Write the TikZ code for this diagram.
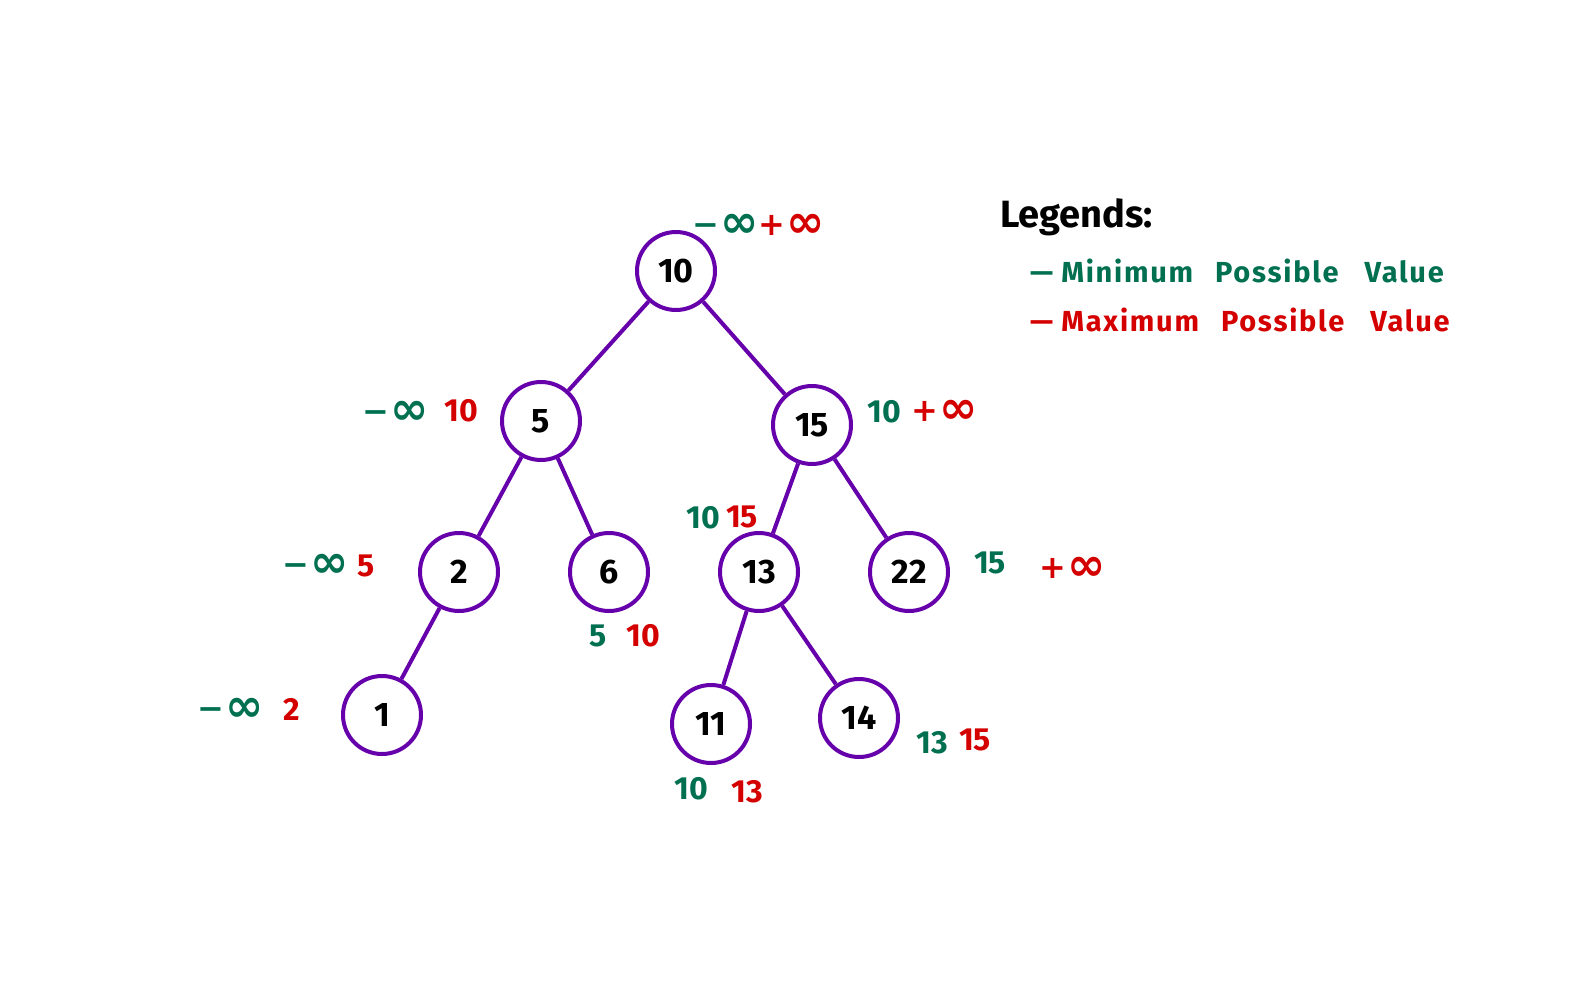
\documentclass[tikz,border=0pt]{standalone}
\usepackage{fontspec}
\setmainfont{Fira Sans}
\newfontfamily\symfont{DejaVu Sans}
\definecolor{treepurple}{RGB}{102,0,170}
\definecolor{mingreen}{RGB}{0,112,80}
\definecolor{maxred}{RGB}{212,0,0}
\newcommand{\infsym}{{\symfont\bfseries\fontsize{46}{46}\selectfont\raisebox{-2pt}{∞}}}
\newcommand{\ninf}{{\symfont\bfseries −\kern1pt\infsym}}
\newcommand{\pinf}{{\symfont\bfseries +\kern1pt\infsym}}
\begin{document}
\begin{tikzpicture}[x=1pt,y=-1pt,
  bstnode/.style={circle,draw=treepurple,line width=4pt,minimum size=78pt,inner sep=0pt,
    font=\fontsize{34}{36}\selectfont\bfseries,fill=white},
  edgeline/.style={draw=treepurple,line width=4pt},
  minlab/.style={text=mingreen,font=\fontsize{32}{34}\selectfont\bfseries,inner sep=0pt},
  maxlab/.style={text=maxred,font=\fontsize{32}{34}\selectfont\bfseries,inner sep=0pt},
  legtext/.style={font=\fontsize{29}{32}\selectfont\bfseries\addfontfeatures{LetterSpace=6},inner sep=0pt,anchor=west}]
\useasboundingbox (0,0) rectangle (1570,1000);
\fill[white] (0,0) rectangle (1570,1000);
% nodes
\node[bstnode] (n10) at (676,271) {10};
\node[bstnode] (n5) at (541,421) {5};
\node[bstnode] (n15) at (812,425) {15};
\node[bstnode] (n2) at (459,572) {2};
\node[bstnode] (n6) at (609,572) {6};
\node[bstnode] (n13) at (759,572) {13};
\node[bstnode] (n22) at (909,572) {22};
\node[bstnode] (n1) at (382,715) {1};
\node[bstnode] (n11) at (711,724) {11};
\node[bstnode] (n14) at (859,718) {14};
% edges
\draw[edgeline] (n10) -- (n5);
\draw[edgeline] (n10) -- (n15);
\draw[edgeline] (n5) -- (n2);
\draw[edgeline] (n5) -- (n6);
\draw[edgeline] (n15) -- (n13);
\draw[edgeline] (n15) -- (n22);
\draw[edgeline] (n2) -- (n1);
\draw[edgeline] (n13) -- (n11);
\draw[edgeline] (n13) -- (n14);
% range labels
\node[minlab] (l10a) at (726,226) {\ninf};
\node[maxlab] (l10b) at (792,226) {\pinf};
\node[minlab] (l5a) at (396,413) {\ninf};
\node[maxlab] (l5b) at (461,411) {10};
\node[minlab] (l15a) at (884,412) {10};
\node[maxlab] (l15b) at (945,412) {\pinf};
\node[minlab] (l2a) at (316,566) {\ninf};
\node[maxlab] (l2b) at (366,566) {5};
\node[minlab] (l6a) at (598,636) {5};
\node[maxlab] (l6b) at (643,636) {10};
\node[minlab] (l13a) at (703,518) {10};
\node[maxlab] (l13b) at (742,517) {15};
\node[minlab] (l22a) at (990,563) {15};
\node[maxlab] (l22b) at (1073,569) {\pinf};
\node[minlab] (l1a) at (231,710) {\ninf};
\node[maxlab] (l1b) at (292,709) {2};
\node[minlab] (l11a) at (691,789) {10};
\node[maxlab] (l11b) at (747,792) {13};
\node[minlab] (l14a) at (932,743) {13};
\node[maxlab] (l14b) at (975,740) {15};
% legend
\node[legtext,font=\fontsize{38}{40}\selectfont\bfseries] (legt) at (1000,217) {Legends:};
\node[legtext,text=mingreen] (legmin) at (1030,271) {—\hspace{8pt}Minimum\hspace{22pt}Possible\hspace{26pt}Value};
\node[legtext,text=maxred] (legmax) at (1030,320) {—\hspace{8pt}Maximum\hspace{22pt}Possible\hspace{26pt}Value};
\end{tikzpicture}
\end{document}
